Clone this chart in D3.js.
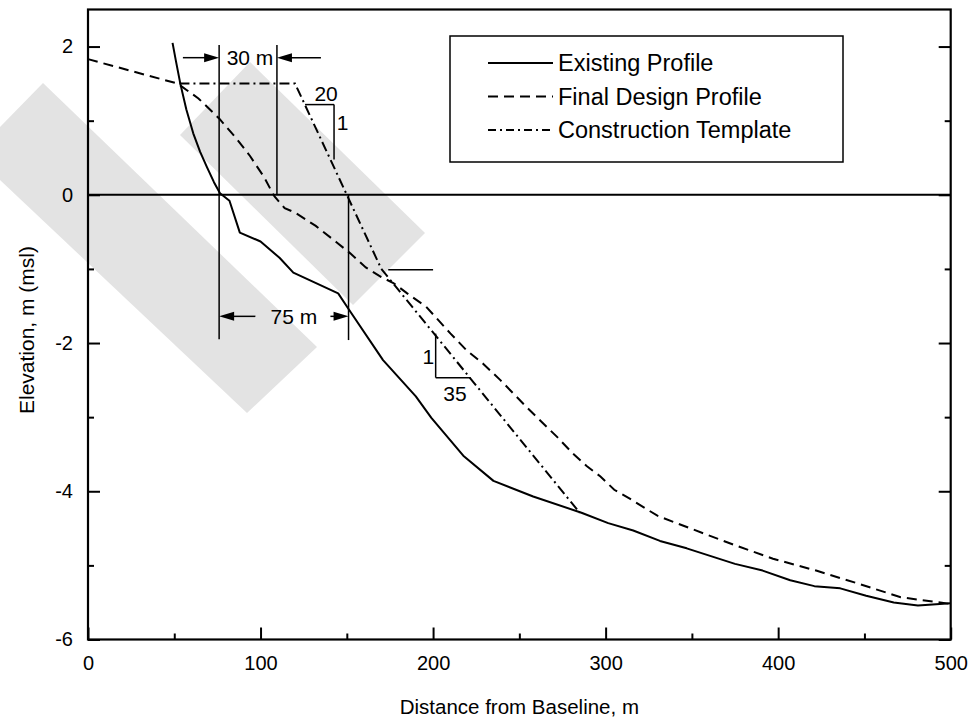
<!DOCTYPE html>
<html>
<head>
<meta charset="utf-8">
<script src="https://cdn.jsdelivr.net/npm/d3@7"></script>
<style>
  html, body { margin: 0; padding: 0; background: #ffffff; }
  svg { display: block; }
  text { font-family: "Liberation Sans", Arial, Helvetica, sans-serif; fill: #000; }
</style>
</head>
<body>
<svg id="chart" width="974" height="723"></svg>
<script>
// ---------------- DATA ----------------
const existingX = [49, 51, 53.5, 57, 61, 65, 69, 73, 76.5, 82, 88, 100, 111, 119, 145, 151, 171, 190, 199, 217.5, 235, 258, 286, 301.5, 316, 331.5, 347, 375, 391, 407, 421, 436, 451, 467, 481, 500];
const existingY = [2.05, 1.8, 1.5, 1.15, 0.83, 0.58, 0.37, 0.17, 0.02, -0.08, -0.51, -0.63, -0.85, -1.05, -1.33, -1.54, -2.23, -2.72, -3.01, -3.52, -3.86, -4.07, -4.29, -4.43, -4.53, -4.67, -4.77, -4.98, -5.07, -5.2, -5.28, -5.31, -5.41, -5.5, -5.54, -5.51];

const designX = [0, 52, 64, 76, 86, 94, 102, 108, 114, 120, 132, 144, 152, 161, 170, 177, 185, 196, 210, 219.5, 229, 239, 254, 272, 281, 289, 297, 305, 314, 330, 349, 374, 397, 422, 447, 471, 500];
const designY = [1.83, 1.5, 1.3, 1.03, 0.76, 0.52, 0.24, -0.02, -0.18, -0.24, -0.42, -0.64, -0.79, -0.98, -1.11, -1.19, -1.33, -1.51, -1.87, -2.1, -2.28, -2.5, -2.86, -3.27, -3.49, -3.66, -3.8, -3.98, -4.1, -4.33, -4.5, -4.72, -4.91, -5.07, -5.25, -5.43, -5.52];

const templateX = [53, 120, 150, 170, 285];
const templateY = [1.5, 1.5, 0, -1, -4.29];

const seriesNames = ["Existing Profile", "Final Design Profile", "Construction Template"];

const xMajorTicks = [0, 100, 200, 300, 400, 500];
const xMinorTicks = [50, 150, 250, 350, 450];
const yMajorTicks = [-6, -4, -2, 0, 2];
const yMinorTicks = [-5, -3, -1, 1];

const xTitle = "Distance from Baseline, m";
const yTitle = "Elevation, m (msl)";

const dimTopLabel = "30 m";
const dimBottomLabel = "75 m";
const slope1Label = ["20", "1"];
const slope2Label = ["1", "35"];

// ---------------- LAYOUT ----------------
const svg = d3.select("#chart");
const L = 88, R = 950.7, T = 9.5, B = 639.5;
const x = d3.scaleLinear().domain([0, 500]).range([L, R]);
const y = d3.scaleLinear().domain([-6, 2.5]).range([B, T]);
const fmt = d => String(d);

// ---------------- WATERMARK (decorative background) ----------------
const wm = svg.append("g").attr("fill", "#e3e3e3").attr("stroke", "none");
wm.append("path").attr("d", "M250,62 L425,233 L353,305 L180,135 Z");
wm.append("path").attr("d", "M43,83 L317,347 L247,413 L0,180 L0,127 Z");

// ---------------- LINES ----------------
const zip = (xs, ys) => xs.map((v, i) => [v, ys[i]]);
const line = d3.line().x(d => x(d[0])).y(d => y(d[1]));

const plot = svg.append("g");
plot.append("line").attr("x1", x(0)).attr("x2", x(500)).attr("y1", y(0)).attr("y2", y(0))
  .attr("stroke", "#000").attr("stroke-width", 2);

plot.append("path").datum(zip(existingX, existingY)).attr("d", line)
  .attr("fill", "none").attr("stroke", "#000").attr("stroke-width", 2).attr("stroke-linejoin", "round");
plot.append("path").datum(zip(designX, designY)).attr("d", line)
  .attr("fill", "none").attr("stroke", "#000").attr("stroke-width", 2).attr("stroke-dasharray", "10,6");
plot.append("path").datum(zip(templateX, templateY)).attr("d", line)
  .attr("fill", "none").attr("stroke", "#000").attr("stroke-width", 2).attr("stroke-dasharray", "10,4,2,4");

// ---------------- ANNOTATIONS ----------------
const annFont = "21px";
const ann = svg.append("g").attr("stroke", "#000").attr("stroke-width", 1.5).attr("fill", "none");
const seg = (x1, y1, x2, y2) => ann.append("line").attr("x1", x1).attr("y1", y1).attr("x2", x2).attr("y2", y2);
seg(x(76), y(2.02), x(76), y(-1.95));
seg(x(109.5), y(2.02), x(109.5), y(0));
seg(x(151), y(0), x(151), y(-1.96));
const arrowHead = (tipX, tipY, dir) => {
  svg.append("path")
    .attr("d", `M${tipX},${tipY} L${tipX - dir * 15},${tipY - 4.5} L${tipX - dir * 15},${tipY + 4.5} Z`)
    .attr("fill", "#000");
};
const yA = y(1.85);
seg(x(55), yA, x(76) - 12, yA); arrowHead(x(76), yA, 1);
seg(x(109.5) + 12, yA, x(135), yA); arrowHead(x(109.5), yA, -1);
svg.append("text").attr("x", (x(76) + x(109.5)) / 2 + 2).attr("y", yA).attr("dy", "0.36em")
  .attr("text-anchor", "middle").style("font-size", annFont).text(dimTopLabel);
const yB = y(-1.64);
arrowHead(x(76), yB, -1); seg(x(76) + 12, yB, x(97), yB);
seg(x(140.5), yB, x(151) - 12, yB); arrowHead(x(151), yB, 1);
svg.append("text").attr("x", (x(97) + x(140.5)) / 2 + 1).attr("y", yB).attr("dy", "0.36em")
  .attr("text-anchor", "middle").style("font-size", annFont).text(dimBottomLabel);
seg(x(125.8), y(1.217), x(142.6), y(1.217));
seg(x(142.6), y(1.217), x(142.6), y(0.475));
svg.append("text").attr("x", x(138)).attr("y", y(1.217) - 4).attr("text-anchor", "middle")
  .style("font-size", annFont).text(slope1Label[0]);
svg.append("text").attr("x", x(147.5)).attr("y", y(0.97)).attr("dy", "0.36em").attr("text-anchor", "middle")
  .style("font-size", annFont).text(slope1Label[1]);
seg(x(201.5), y(-1.873), x(201.5), y(-2.467));
seg(x(201.5), y(-2.467), x(221.8), y(-2.467));
svg.append("text").attr("x", x(197.3)).attr("y", y(-2.18)).attr("dy", "0.36em").attr("text-anchor", "middle")
  .style("font-size", annFont).text(slope2Label[0]);
svg.append("text").attr("x", x(212.7)).attr("y", y(-2.68)).attr("dy", "0.36em").attr("text-anchor", "middle")
  .style("font-size", annFont).text(slope2Label[1]);
seg(x(174), y(-1.01), x(200), y(-1.01));

// ---------------- AXES ----------------
const axG = svg.append("g");
const style = g => {
  g.selectAll("path.domain").remove();
  g.selectAll("line").attr("stroke", "#000").attr("stroke-width", 2);
  g.selectAll("text").style("font-size", "20px").attr("fill", "#000").attr("font-family", null);
};
axG.append("g").attr("transform", `translate(0,${B})`)
  .call(d3.axisBottom(x).tickValues(xMajorTicks).tickSizeInner(-12).tickSizeOuter(0).tickPadding(16).tickFormat(fmt))
  .call(style);
axG.append("g").attr("transform", `translate(0,${B})`)
  .call(d3.axisBottom(x).tickValues(xMinorTicks).tickSizeInner(-6).tickSizeOuter(0).tickFormat(""))
  .call(style);
axG.append("g").attr("transform", `translate(${L},0)`)
  .call(d3.axisLeft(y).tickValues(yMajorTicks).tickSizeInner(-12).tickSizeOuter(0).tickPadding(15).tickFormat(fmt))
  .call(style);
axG.append("g").attr("transform", `translate(${L},0)`)
  .call(d3.axisLeft(y).tickValues(yMinorTicks).tickSizeInner(-6).tickSizeOuter(0).tickFormat(""))
  .call(style);
axG.append("g").attr("transform", `translate(${R},0)`)
  .call(d3.axisRight(y).tickValues(yMajorTicks).tickSizeInner(-12).tickSizeOuter(0).tickFormat(""))
  .call(style);
axG.append("g").attr("transform", `translate(${R},0)`)
  .call(d3.axisRight(y).tickValues(yMinorTicks).tickSizeInner(-6).tickSizeOuter(0).tickFormat(""))
  .call(style);

svg.append("rect").attr("x", L).attr("y", T).attr("width", R - L).attr("height", B - T)
  .attr("fill", "none").attr("stroke", "#000").attr("stroke-width", 2.2);

svg.append("text").attr("x", (L + R) / 2).attr("y", 714).attr("text-anchor", "middle")
  .style("font-size", "20.5px").text(xTitle);
svg.append("text").attr("transform", `translate(34,330) rotate(-90)`).attr("text-anchor", "middle")
  .style("font-size", "21px").text(yTitle);

// ---------------- LEGEND ----------------
const lg = svg.append("g");
lg.append("rect").attr("x", 450).attr("y", 36).attr("width", 393).attr("height", 126)
  .attr("fill", "#fff").attr("stroke", "#000").attr("stroke-width", 1.5);
const dashes = [null, "10,6", "8,4,2,4"];
seriesNames.forEach((name, i) => {
  const yy = 63 + i * 33.5;
  const l = lg.append("line").attr("x1", 488).attr("x2", 553).attr("y1", yy).attr("y2", yy)
    .attr("stroke", "#000").attr("stroke-width", 2);
  if (dashes[i]) l.attr("stroke-dasharray", dashes[i]);
  lg.append("text").attr("x", 558).attr("y", yy).attr("dy", "0.36em").style("font-size", "23.5px").text(name);
});
</script>
</body>
</html>
